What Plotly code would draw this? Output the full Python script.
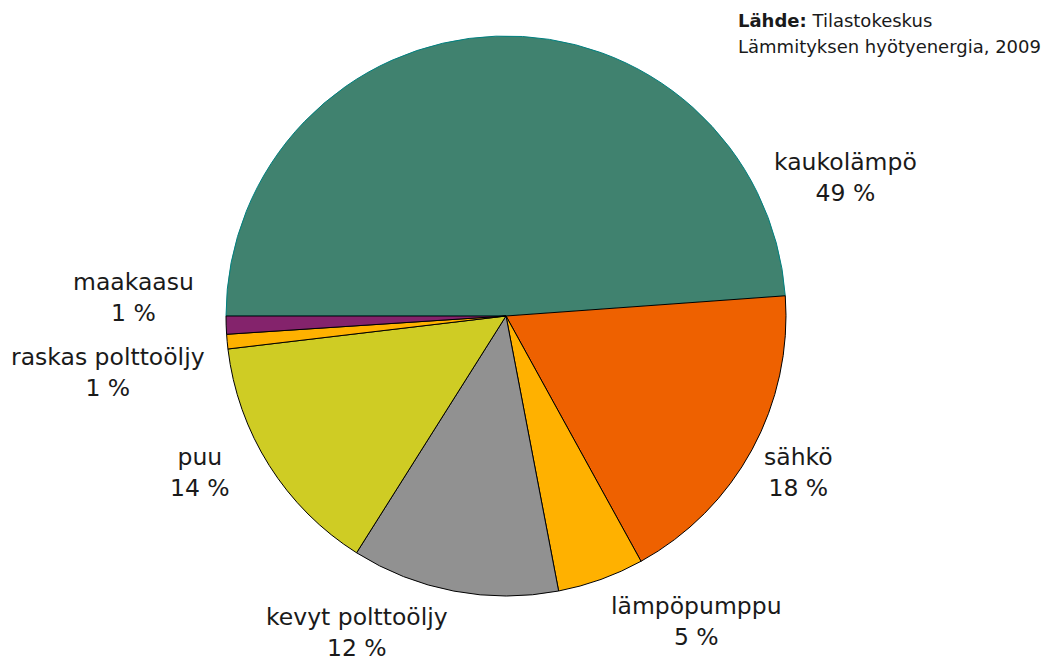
import plotly.graph_objects as go

# Data
categories = ["kaukolämpö", "sähkö", "lämpöpumppu", "kevyt polttoöljy", "puu",
              "raskas polttoöljy", "maakaasu"]
values = [48.85, 18.14, 5.0, 11.97, 14.16, 0.84, 1.04]
colors = ["#40826F", "#EE6100", "#FFB100", "#919191", "#CFCC24", "#FFB100", "#84236C"]
edge_colors = ["#008080", "#000000", "#000000", "#000000", "#000000", "#000000", "#000000"]

# label centre positions in page pixels (x, y from top)
label_pos = [(845, 178), (798, 472), (696, 621), (357, 632), (200, 472), (108, 372), (133, 298)]

OFF = 8  # default body margin of the html page
W, H = 1044, 654
cx, cy, r = 506, 316, 280


def px2paper(px, py):
    return (px - OFF) / W, 1 - (py - OFF) / H


x0, y1 = px2paper(cx - r, cy - r)
x1, y0 = px2paper(cx + r, cy + r)

fig = go.Figure(go.Pie(
    labels=categories,
    values=values,
    sort=False,
    direction="clockwise",
    rotation=270,
    textinfo="none",
    hoverinfo="label+percent",
    marker=dict(colors=colors, line=dict(color=edge_colors, width=1)),
    domain=dict(x=[x0, x1], y=[y0, y1]),
    showlegend=False,
))

total = sum(values)
annotations = []
for cat, val, (px, py) in zip(categories, values, label_pos):
    pct = round(val / total * 100)
    ax, ay = px2paper(px, py)
    annotations.append(dict(
        x=ax, y=ay, xref="paper", yref="paper",
        text=f"{cat}<br>{pct} %", showarrow=False,
        xanchor="center", yanchor="middle", align="center",
        font=dict(family="DejaVu Sans", size=23.5, color="#1a1a1a"),
    ))

source_lines = ["<b>Lähde:</b> Tilastokeskus", "Lämmityksen hyötyenergia, 2009"]
source_y = [20, 46]
for t, sy in zip(source_lines, source_y):
    ax, ay = px2paper(736, sy)
    annotations.append(dict(
        x=ax, y=ay, xref="paper", yref="paper",
        text=t, showarrow=False, xanchor="left", yanchor="middle", align="left",
        font=dict(family="DejaVu Sans", size=18, color="#1a1a1a"),
    ))

fig.update_layout(
    width=W, height=H,
    margin=dict(l=0, r=0, t=0, b=0),
    paper_bgcolor="white", plot_bgcolor="white",
    annotations=annotations,
)

fig.write_html("out.html")
